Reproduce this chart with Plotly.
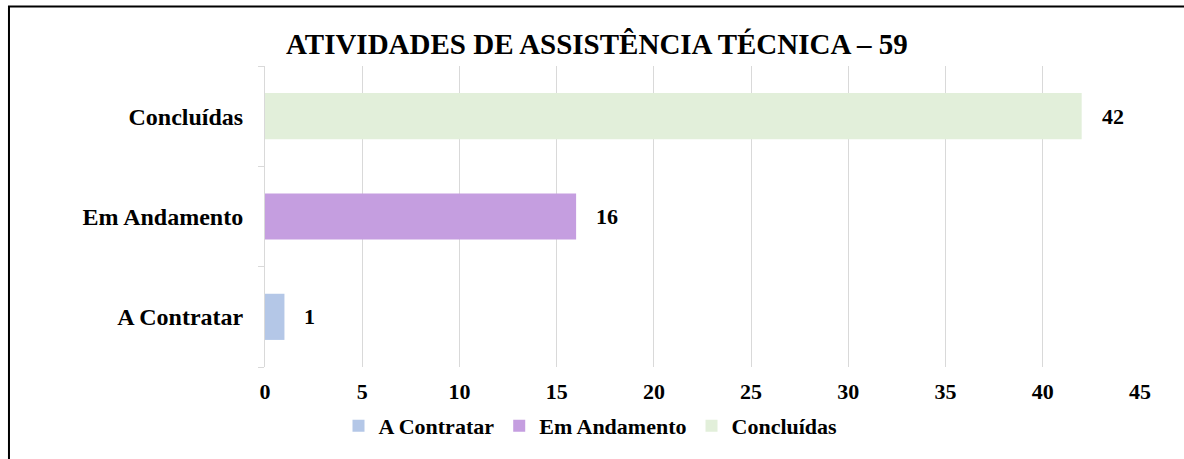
import plotly.graph_objects as go

categories = ["A Contratar", "Em Andamento", "Concluídas"]
values = [1, 16, 42]
colors = ["#b4c7e7", "#c59ee0", "#e2efda"]
x_ticks = [0, 5, 10, 15, 20, 25, 30, 35, 40, 45]
title_text = "ATIVIDADES DE ASSISTÊNCIA TÉCNICA – 59"
caption_text = "Gráfico 11 – Atividades de Assistência Técnica"

FONT = "Liberation Serif"

fig = go.Figure()
for cat, val, col in zip(categories, values, colors):
    fig.add_trace(go.Bar(
        x=[val], y=[cat], orientation="h", name=f"<b>{cat}</b>",
        marker=dict(color=col, line=dict(width=0)),
    ))
    fig.add_annotation(
        x=val, y=cat, xref="x", yref="y", text=f"<b>{val}</b>",
        showarrow=False, xanchor="left", xshift=18,
        font=dict(family=FONT, size=22, color="#000000"),
    )

fig.add_annotation(
    x=0.3794, y=1.073, xref="paper", yref="paper", text=f"<b>{title_text}</b>",
    showarrow=False, xanchor="center", yanchor="middle",
    font=dict(family=FONT, size=29, color="#000000"),
)
fig.add_annotation(
    x=-0.293, y=1.199, xref="paper", yref="paper", text=caption_text,
    showarrow=False, xanchor="left", yanchor="bottom",
    font=dict(family=FONT, size=23, color="#000000"),
)

fig.add_shape(
    type="rect", xref="paper", yref="paper",
    x0=-0.2926, x1=1.2, y0=-0.6, y1=1.1977,
    line=dict(color="#000000", width=2), fillcolor="rgba(0,0,0,0)", layer="above",
)

fig.update_layout(
    width=1184, height=459,
    margin=dict(l=265, r=44, t=66, b=92),
    paper_bgcolor="#ffffff", plot_bgcolor="#ffffff",
    barmode="overlay", bargap=0.54,
    showlegend=True,
    legend=dict(
        orientation="h", x=0.372, xanchor="center", y=-0.196, yanchor="middle",
        font=dict(family=FONT, size=22, color="#000000"),
        traceorder="normal",
    ),
    font=dict(family=FONT, size=22, color="#000000"),
)
fig.update_xaxes(
    range=[0, 45], tickvals=x_ticks, ticktext=[f"<b>{t}</b>" for t in x_ticks],
    showgrid=True, gridcolor="#d9d9d9", gridwidth=1,
    zeroline=False, showline=False, ticks="",
    tickfont=dict(family=FONT, size=22, color="#000000"),
    ticklabelstandoff=9, fixedrange=True,
)
fig.update_yaxes(
    categoryorder="array", categoryarray=categories,
    tickvals=categories, ticktext=[f"<b>{c}</b>" for c in categories],
    showgrid=False, showline=True, linecolor="#d9d9d9", linewidth=1,
    ticks="outside", tickson="boundaries", ticklen=6, tickcolor="#d9d9d9",
    tickfont=dict(family=FONT, size=24, color="#000000"),
    ticklabelstandoff=16, fixedrange=True,
)

fig.write_html("out.html", config={"displayModeBar": False},
               post_script="document.body.style.margin='0';")
